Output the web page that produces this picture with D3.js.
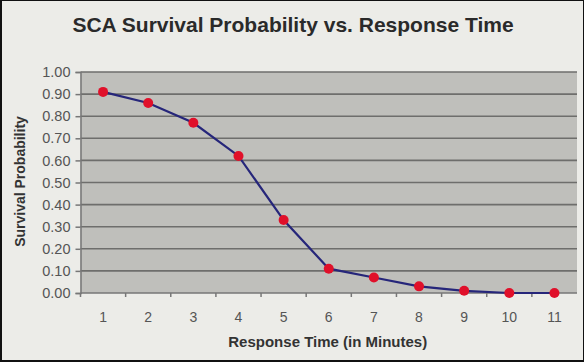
<!DOCTYPE html>
<html>
<head>
<meta charset="utf-8">
<script src="https://cdn.jsdelivr.net/npm/d3@7"></script>
<style>
  html, body { margin: 0; padding: 0; background: #1a1a1a; }
  #chart { width: 584px; height: 362px; }
  text { font-family: "Liberation Sans", Arial, sans-serif; }
</style>
</head>
<body>
<div id="chart"></div>
<script>
// data
var minutes = ["1", "2", "3", "4", "5", "6", "7", "8", "9", "10", "11"];
var survival = [0.91, 0.86, 0.77, 0.62, 0.33, 0.11, 0.07, 0.03, 0.01, 0.00, 0.00];
var yTicks = [0, 0.1, 0.2, 0.3, 0.4, 0.5, 0.6, 0.7, 0.8, 0.9, 1.0];

var W = 584, H = 362;
var margin = {top: 72, right: 7, bottom: 69, left: 80.5};
var width = W - margin.left - margin.right,
    height = H - margin.top - margin.bottom;

var svg = d3.select("#chart")
  .append("svg")
    .attr("width", W)
    .attr("height", H);

// frame / background
svg.append("rect")
  .attr("x", 0).attr("y", 0).attr("width", W).attr("height", H)
  .attr("fill", "#111");
svg.append("rect")
  .attr("x", 2).attr("y", 1).attr("width", W - 3).attr("height", H - 3)
  .attr("fill", "#ecece8");

svg.append("text")
  .attr("x", W / 2 + 1)
  .attr("y", 32)
  .attr("text-anchor", "middle")
  .attr("font-size", 21)
  .attr("font-weight", "bold")
  .attr("fill", "#2a2a2a")
  .text("SCA Survival Probability vs. Response Time");

var g = svg.append("g")
  .attr("transform", "translate(" + margin.left + "," + margin.top + ")");

var x = d3.scaleBand()
  .domain(minutes)
  .range([0, width]);

var y = d3.scaleLinear()
  .domain([0, 1])
  .range([height, 0]);

// plot area
g.append("rect")
  .attr("width", width)
  .attr("height", height)
  .attr("fill", "#bfbfbb");

// gridlines
g.selectAll(".grid")
  .data(yTicks.slice(1))
  .enter()
  .append("line")
    .attr("x1", 0).attr("x2", width)
    .attr("y1", function(d) { return y(d); })
    .attr("y2", function(d) { return y(d); })
    .attr("stroke", "#6e6e6c")
    .attr("stroke-width", 1.6);

// y axis
var yAxis = g.append("g")
  .call(d3.axisLeft(y).tickValues(yTicks).tickFormat(d3.format(".2f")).tickSize(5).tickPadding(5));
yAxis.select(".domain").attr("stroke", "#777").attr("stroke-width", 1.5);
yAxis.selectAll(".tick line").attr("stroke", "#777").attr("stroke-width", 1.5);
yAxis.selectAll(".tick text")
  .attr("font-size", 14.5)
  .attr("fill", "#555")
  .attr("font-family", "Liberation Sans, Arial, sans-serif");

// x axis: ticks sit between categories
var xAxisG = g.append("g")
  .attr("transform", "translate(0," + height + ")");
xAxisG.append("line")
  .attr("x1", 0).attr("x2", width)
  .attr("stroke", "#777").attr("stroke-width", 1.5);
xAxisG.selectAll(".xt")
  .data(minutes)
  .enter()
  .append("line")
    .attr("x1", function(d) { return x(d); })
    .attr("x2", function(d) { return x(d); })
    .attr("y1", 0).attr("y2", 4)
    .attr("stroke", "#777").attr("stroke-width", 1.5);
xAxisG.selectAll(".xl")
  .data(minutes)
  .enter()
  .append("text")
    .attr("x", function(d) { return x(d) + x.bandwidth() / 2; })
    .attr("y", 29)
    .attr("text-anchor", "middle")
    .attr("font-size", 14)
    .attr("fill", "#555")
    .text(function(d) { return d; });

// axis titles
svg.append("text")
  .attr("x", margin.left + width / 2 - 1)
  .attr("y", 347)
  .attr("text-anchor", "middle")
  .attr("font-size", 15)
  .attr("font-weight", "bold")
  .attr("fill", "#333")
  .text("Response Time (in Minutes)");

svg.append("text")
  .attr("transform", "translate(25," + (margin.top + height / 2 - 1) + ") rotate(-90)")
  .attr("text-anchor", "middle")
  .attr("font-size", 14)
  .attr("font-weight", "bold")
  .attr("fill", "#333")
  .text("Survival Probability");

// line
var line = d3.line()
  .x(function(d, i) { return x(minutes[i]) + x.bandwidth() / 2; })
  .y(function(d) { return y(d); });

g.append("path")
  .datum(survival)
  .attr("d", line)
  .attr("fill", "none")
  .attr("stroke", "#26267a")
  .attr("stroke-width", 2.2);

g.selectAll(".dot")
  .data(survival)
  .enter()
  .append("circle")
    .attr("cx", function(d, i) { return x(minutes[i]) + x.bandwidth() / 2; })
    .attr("cy", function(d) { return y(d); })
    .attr("r", 5)
    .attr("fill", "#e0102a");
</script>
</body>
</html>
